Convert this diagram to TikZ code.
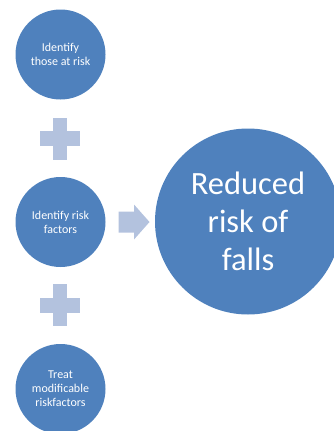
\documentclass[tikz,border=0pt]{standalone}
\usepackage{fontspec}
\setmainfont{Carlito}
\usetikzlibrary{positioning,calc}

\definecolor{stepblue}{RGB}{79,129,189}
\definecolor{pluslight}{RGB}{179,194,222}

\tikzset{
  stepcircle/.style={circle, fill=stepblue, minimum size=90pt, inner sep=0pt,
    text=white, align=center, font=\fontsize{12}{14}\selectfont},
  goalcircle/.style={circle, fill=stepblue, minimum size=186pt, inner sep=0pt,
    text=white, align=center, font=\fontsize{32.5}{38}\selectfont}
}

\begin{document}
\begin{tikzpicture}[x=1pt, y=-1pt]
\useasboundingbox (0, 0) rectangle (333, 431);

\node[stepcircle] (atrisk) at (60.5, 54.5) {Identify\\those at risk};
\node[stepcircle] (factors) at (60.5, 222) {Identify risk\\factors};
\node[stepcircle] (treat) at (60.5, 389) {Treat\\modificable\\riskfactors};
\node[goalcircle] (falls) at (248, 221.5) {Reduced\\risk of\\falls};

% plus signs between the steps
\coordinate (plusA) at (60, 138.5);
\coordinate (plusB) at (60, 305);
\foreach \p in {plusA, plusB} {
  \fill[pluslight] ($(\p) + (-20, -7.5)$) rectangle ($(\p) + (20, 7.5)$);
  \fill[pluslight] ($(\p) + (-7, -21)$) rectangle ($(\p) + (7, 21)$);
}

% arrow to the goal
\coordinate (arr) at (118.5, 222);
\fill[pluslight] (arr) ++(0, -10.5) -- ++(15.5, 0) -- ++(0, -7) -- ++(15.5, 17.5)
  -- ++(-15.5, 17.5) -- ++(0, -7) -- ++(-15.5, 0) -- cycle;

\end{tikzpicture}
\end{document}
